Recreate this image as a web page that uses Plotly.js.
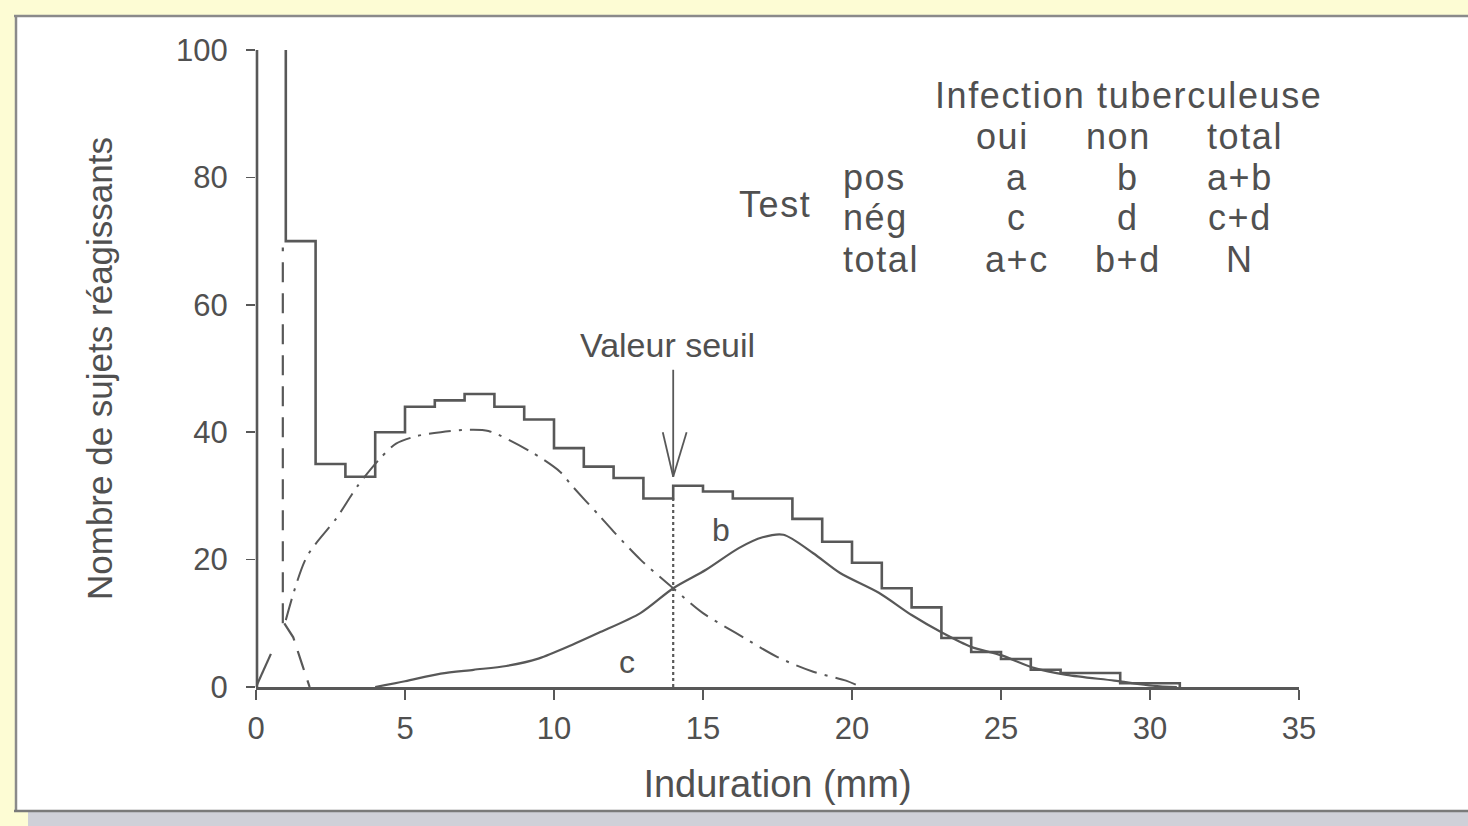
<!DOCTYPE html>
<html>
<head>
<meta charset="utf-8">
<script src="https://cdn.plot.ly/plotly-3.0.1.min.js"></script>
<style>
html,body{margin:0;padding:0;background:#fdfcd4;}
#chart{width:1468px;height:826px;}
</style>
</head>
<body>
<div id="chart"></div>
<script>
// ---- Data ----
const binStarts = [0,1,2,3,4,5,6,7,8,9,10,11,12,13,14,15,16,17,18,19,20,21,22,23,24,25,26,27,28,29,30];
const binCounts = [130,70,35,33,40,44,45,46,44,42,37.5,34.6,32.8,29.6,31.6,30.7,29.6,29.6,26.4,22.8,19.5,15.5,12.5,7.7,5.5,4.4,2.7,2.2,2.2,0.6,0.6];

// non infected subjects (dash-dot curve)
const nonInfX = [1.0,1.7,2.7,3.4,4.15,4.7,5.4,6.2,7.2,7.8,9.2,10.2,10.6,11.5,12.0,12.9,14.0,15.0,16.1,17.5,18.7,19.8,20.3];
const nonInfY = [10.5,20.4,26.5,31.5,35.8,38.2,39.4,40.0,40.4,40.2,37.0,33.8,31.6,27.0,24.4,20.0,15.5,11.6,8.5,4.7,2.4,1.0,0];

// infected subjects (solid curve)
const infX = [4.0,5.0,6.2,7.3,8.4,9.5,10.6,11.5,12.9,14.0,15.1,16.2,17.0,17.7,18.7,19.6,20.9,22.0,23.0,24.0,25.0,26.1,27.2,28.8,30.1,30.9];
const infY = [0,0.9,2.1,2.7,3.3,4.5,6.6,8.5,11.6,15.5,18.4,21.8,23.5,23.9,21.0,17.9,14.8,11.3,8.6,6.3,5.0,3.0,1.9,1.0,0.2,0];

// narrow early peak (dashed)
const spikeX = [0,0.5,null,0.9,0.9,null,0.95,1.25,1.55,1.8];
const spikeY = [0,5.2,null,10,69,null,10,7.8,3.5,0];

const threshold = 14;
const thresholdLabel = 'Valeur seuil';
const xTicks = [0,5,10,15,20,25,30,35];
const yTicks = [0,20,40,60,80,100];

const tableTitle = 'Infection tuberculeuse';
const tableSide = 'Test';
const tableColHeaders = ['oui','non','total'];
const tableRowHeaders = ['pos','nég','total'];
const tableCells = [['a','b','a+b'],['c','d','c+d'],['a+c','b+d','N']];
const regionLabels = ['b','c'];

// ---- Styles ----
const FONT = 'Liberation Sans, Arial, Helvetica, sans-serif';
const INK = '#585858';
const TXT = '#505050';

// plot area in pixels and helpers to convert px to paper coords
const L=256, R=1299, T=50, B=687;
const px2x = p => (p-L)/(R-L);
const px2y = p => (B-p)/(B-T);

// histogram as a step line (left edge coincides with the y axis)
const histX = binStarts.concat([binStarts[binStarts.length-1]+1]);
const histY = binCounts.concat([0]);

const traces = [
  {x: histX, y: histY, mode:'lines', line:{shape:'hv', color:INK, width:2.6}, hoverinfo:'skip'},
  {x: nonInfX, y: nonInfY, mode:'lines', line:{shape:'spline', smoothing:0.8, color:INK, width:2, dash:'22px,8px,3px,8px'}, hoverinfo:'skip'},
  {x: infX, y: infY, mode:'lines', line:{shape:'spline', smoothing:0.8, color:INK, width:2.2}, hoverinfo:'skip'},
  {x: spikeX.slice(0,2), y: spikeY.slice(0,2), mode:'lines', line:{color:INK, width:2.2}, hoverinfo:'skip'},
  {x: spikeX.slice(2), y: spikeY.slice(2), mode:'lines', connectgaps:false, line:{color:INK, width:2.2, dash:'20px,11px'}, hoverinfo:'skip'},
  {x: [threshold, threshold], y: [0, Math.min(binCounts[threshold-1], binCounts[threshold])], mode:'lines', line:{color:INK, width:2.2, dash:'dot'}, hoverinfo:'skip'}
];

// table annotations (pixel layout of the reference)
const ann = [];
const tf = {family:FONT, size:36, color:TXT};
const sp = t => '<span style="letter-spacing:1.6px">' + t + '</span>';
const titleY = 95, headY = 136, rowY = [177, 218, 259];
const headX = [1002, 1118, 1245];
const cellX = [1017, 1128, 1240];
ann.push({px:1128, py:titleY, text:tableTitle});
ann.push({px:775, py:204, text:tableSide});
tableColHeaders.forEach((t,i)=>ann.push({px:headX[i], py:headY, text:t}));
tableRowHeaders.forEach((t,i)=>ann.push({px:841, py:rowY[i], text:t, xanchor:'left'}));
tableCells.forEach((row,r)=>row.forEach((t,c)=>ann.push({px:cellX[c], py:rowY[r], text:t})));
ann.forEach(a=>{
  a.x = px2x(a.px); a.y = px2y(a.py); delete a.px; delete a.py;
  a.text = sp(a.text);
  a.xref='paper'; a.yref='paper'; a.showarrow=false; a.font=tf;
  if(!a.xanchor) a.xanchor='center'; a.yanchor='middle';
});

ann.push({x:13.8, y:53.7, xref:'x', yref:'y', text:thresholdLabel, showarrow:false, font:{family:FONT, size:34, color:TXT}});
ann.push({x:15.6, y:24.6, xref:'x', yref:'y', text:regionLabels[0], showarrow:false, font:{family:FONT, size:32, color:TXT}});
ann.push({x:12.45, y:3.9, xref:'x', yref:'y', text:regionLabels[1], showarrow:false, font:{family:FONT, size:32, color:TXT}});

const shapes = [
  // white sheet
  {type:'rect', xref:'paper', yref:'paper', x0:px2x(16), x1:px2x(1480), y0:px2y(811), y1:px2y(16), fillcolor:'#ffffff', line:{width:0}, layer:'below'},
  // shadow under sheet
  {type:'rect', xref:'paper', yref:'paper', x0:px2x(28), x1:px2x(1480), y0:px2y(830), y1:px2y(812), fillcolor:'#cfd0d8', line:{width:0}, layer:'below'},
  // sheet borders
  {type:'line', xref:'paper', yref:'paper', x0:px2x(14), x1:px2x(1480), y0:px2y(16), y1:px2y(16), line:{color:'#8a8a8a', width:2.5}, layer:'below'},
  {type:'line', xref:'paper', yref:'paper', x0:px2x(16), x1:px2x(16), y0:px2y(16), y1:px2y(811), line:{color:'#8a8a8a', width:2.5}, layer:'below'},
  {type:'line', xref:'paper', yref:'paper', x0:px2x(14), x1:px2x(1480), y0:px2y(811), y1:px2y(811), line:{color:'#7a7a7a', width:2.5}, layer:'below'},
  // y axis line at x = 0
  {type:'line', xref:'paper', yref:'paper', x0:px2x(257), x1:px2x(257), y0:0, y1:1, line:{color:INK, width:2.6}},
  // arrow shaft and head for threshold
  {type:'line', xref:'x', yref:'y', x0:threshold, x1:threshold, y0:49.8, y1:33, line:{color:INK, width:1.8}},
  {type:'line', xref:'x', yref:'y', x0:threshold-0.35, x1:threshold, y0:40, y1:33, line:{color:INK, width:1.8}},
  {type:'line', xref:'x', yref:'y', x0:threshold+0.45, x1:threshold, y0:40, y1:33, line:{color:INK, width:1.8}}
];

const layout = {
  width:1468, height:826,
  margin:{l:L, r:1468-R, t:T, b:826-B, pad:0},
  paper_bgcolor:'#fdfcd4',
  plot_bgcolor:'#ffffff',
  showlegend:false,
  font:{family:FONT, color:TXT},
  xaxis:{
    range:[0,35], tickvals:xTicks, ticktext:xTicks.map(String),
    showgrid:false, zeroline:false, showline:true, linecolor:INK, linewidth:2.6,
    ticks:'outside', ticklen:10, tickwidth:1.5, tickcolor:INK,
    tickfont:{family:FONT, size:31, color:TXT}, ticklabelstandoff:2,
    title:{text:'Induration (mm)', font:{family:FONT, size:38, color:TXT}, standoff:26}
  },
  yaxis:{
    range:[0,100], tickvals:yTicks, ticktext:yTicks.map(String),
    showgrid:false, zeroline:false, showline:false,
    ticks:'outside', ticklen:9, tickwidth:1.5, tickcolor:INK,
    tickfont:{family:FONT, size:31, color:TXT}, ticklabelstandoff:12,
    title:{text:'Nombre de sujets réagissants', font:{family:FONT, size:35, color:TXT}, standoff:52}
  },
  annotations: ann,
  shapes: shapes
};

Plotly.newPlot('chart', traces, layout, {staticPlot:true, displayModeBar:false});
</script>
</body>
</html>
